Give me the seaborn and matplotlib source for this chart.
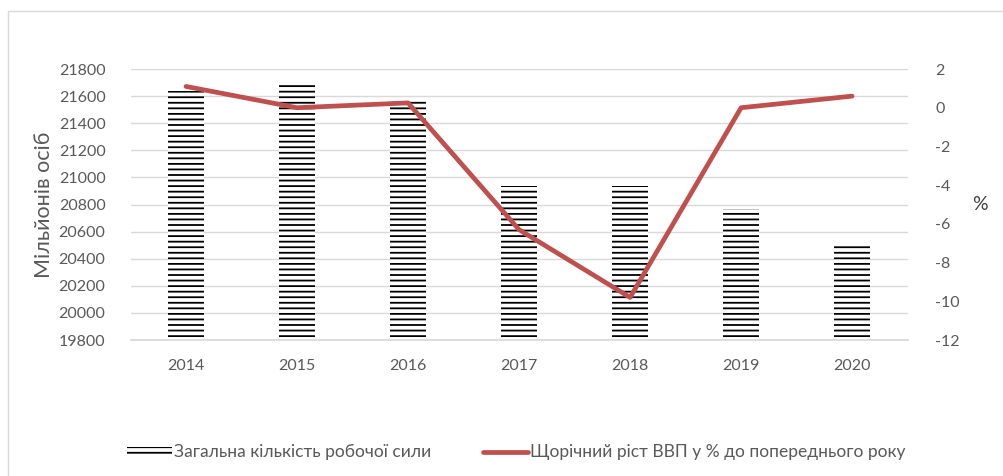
import numpy as np
import pandas as pd
import seaborn as sns
import matplotlib.pyplot as plt
from matplotlib.patches import Patch, Rectangle
from matplotlib.lines import Line2D

years = ["2014", "2015", "2016", "2017", "2018", "2019", "2020"]
labour = [21640, 21680, 21570, 20935, 20935, 20765, 20510]
gdp_growth = [1.1, 0.0, 0.25, -6.3, -9.8, 0.0, 0.6]

bar_name = "Загальна кількість робочої сили"
line_name = "Щорічний ріст ВВП у % до попереднього року"

sns.set_theme(style="white")
plt.rcParams["font.family"] = ["Lato", "DejaVu Sans"]
plt.rcParams["axes.unicode_minus"] = False
plt.rcParams["hatch.linewidth"] = 1.3
plt.rcParams["hatch.color"] = "black"

grey = "#595959"
red = "#C0504D"

df = pd.DataFrame({"year": years, "labour": labour, "gdp": gdp_growth})

fig = plt.figure(figsize=(10.04, 4.76), dpi=100)
ax = fig.add_axes([0.130, 0.2857, 0.774, 0.5693])

sns.barplot(data=df, x="year", y="labour", ax=ax, color="white",
            edgecolor="black", linewidth=0, hatch="---", width=0.33,
            errorbar=None)
# bars start at the bottom of the axis
for p in ax.patches:
    p.set_y(19800)
    p.set_height(p.get_height() - 19800)

ax.set_ylim(19800, 21800)
ax.set_yticks(np.arange(19800, 21801, 200))
ax.set_xlim(-0.5, 6.5)
ax.grid(axis="y", color="#d9d9d9", linewidth=1)
ax.set_axisbelow(True)
for s in ["top", "right", "left"]:
    ax.spines[s].set_visible(False)
ax.spines["bottom"].set_color("#d9d9d9")
ax.tick_params(axis="y", colors=grey, labelsize=11.5, length=0, pad=18)
ax.tick_params(axis="x", colors=grey, labelsize=11.5, length=0, pad=14)
ax.set_xlabel("")
ax.set_ylabel("Мільйонів осіб", fontsize=15.5, color=grey, labelpad=3)

ax2 = ax.twinx()
sns.lineplot(x=np.arange(len(years)), y=df["gdp"], ax=ax2, color=red,
             linewidth=3.4, legend=False)
ax2.set_ylim(-12, 2)
ax2.set_yticks(np.arange(-12, 3, 2))
ax2.set_xlim(-0.5, 6.5)
for s in ax2.spines.values():
    s.set_visible(False)
ax2.tick_params(axis="y", colors=grey, labelsize=11.5, length=0, pad=20)
ax2.set_ylabel("%", fontsize=14, color="#404040", rotation=0, labelpad=14,
               va="center")

handles = [Patch(facecolor="white", edgecolor="black", linewidth=0,
                 hatch="---", label=bar_name),
           Line2D([0], [0], color=red, linewidth=3.4, label=line_name)]
fig.legend(handles=handles, loc="center", bbox_to_anchor=(0.514, 0.05),
           ncol=2, frameon=False, fontsize=12.5, labelcolor=grey,
           handlelength=2.6, handletextpad=0.1, columnspacing=3.0,
           handleheight=0.3)

fig.patches.append(Rectangle((0.008, -0.1), 1.2, 1.077,
                             transform=fig.transFigure, fill=False,
                             edgecolor="#d9d9d9", linewidth=1))

fig.savefig("out.png", dpi=100)
